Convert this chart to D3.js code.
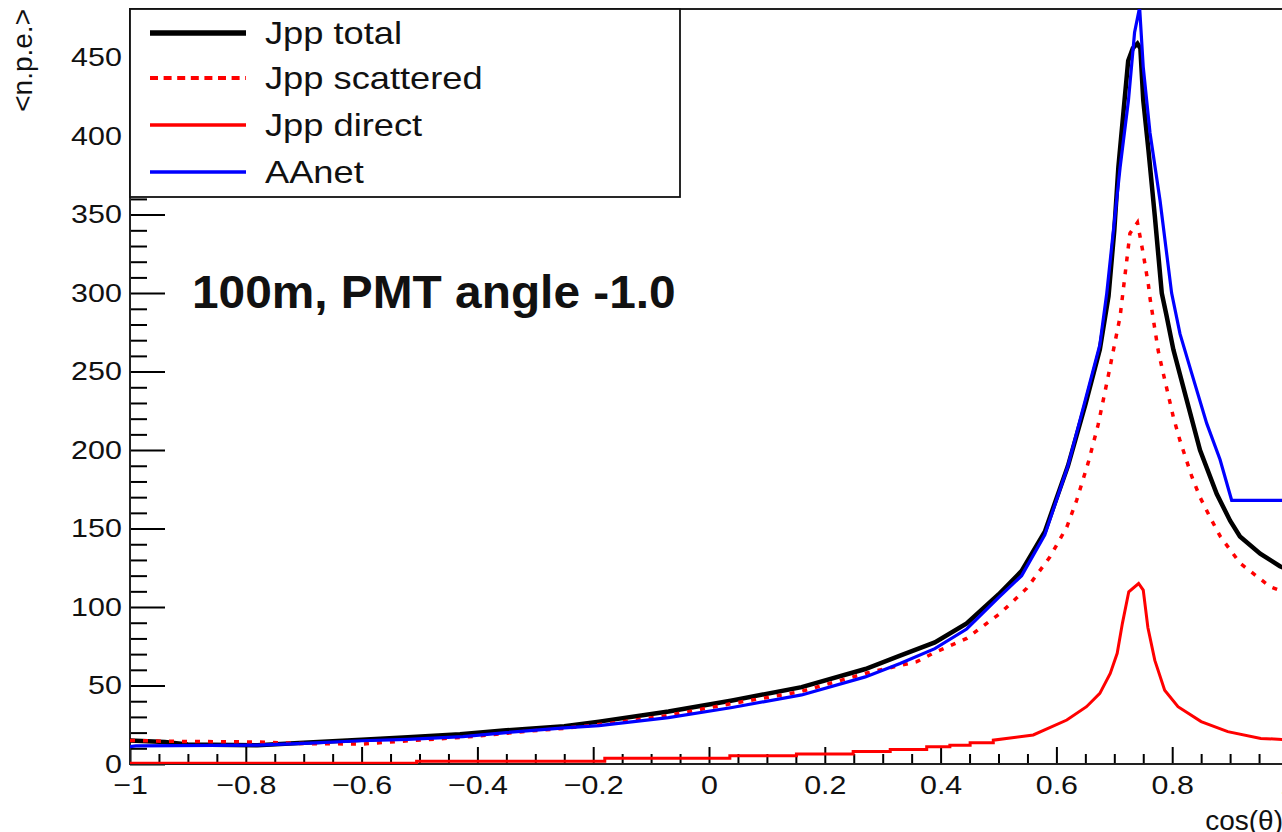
<!DOCTYPE html>
<html lang="en">
<head>
<meta charset="UTF-8" />
<script src="https://d3js.org/d3.v7.min.js"></script>
<title>n.p.e. vs cos(theta)</title>
<style>
  body { margin: 0; background: #fff; }
  text { font-family: "Liberation Sans", Arial, Helvetica, sans-serif; }
</style>
</head>
<body>
<script>
// ---- data ----
var totalX = [-1, -0.94, -0.9, -0.78, -0.7, -0.6, -0.52, -0.43, -0.35, -0.25, -0.19, -0.07, 0.04, 0.16, 0.27, 0.33, 0.39, 0.445, 0.5, 0.54, 0.58, 0.62, 0.65, 0.675, 0.69, 0.7, 0.707, 0.716, 0.724, 0.732, 0.74, 0.745, 0.75, 0.759, 0.77, 0.782, 0.79, 0.802, 0.825, 0.848, 0.877, 0.9, 0.917, 0.952, 0.986, 1.0];
var totalY = [15, 14, 12.5, 12, 13.5, 15.5, 17, 19, 21.5, 24, 27, 33.5, 40.5, 49, 60.5, 69, 77.5, 89.5, 108, 123, 148, 190, 229, 264, 298, 340, 380, 416, 448, 456, 459, 456, 423, 391, 349, 300, 286, 264, 232, 200, 172, 155, 145, 134, 126, 124];

var scatX = [-1, -0.94, -0.78, -0.7, -0.6, -0.52, -0.425, -0.31, -0.25, -0.17, -0.073, 0.041, 0.157, 0.273, 0.359, 0.387, 0.445, 0.503, 0.549, 0.589, 0.618, 0.635, 0.655, 0.672, 0.69, 0.71, 0.727, 0.74, 0.75, 0.759, 0.762, 0.776, 0.782, 0.802, 0.8135, 0.834, 0.848, 0.865, 0.883, 0.917, 0.969, 0.99, 1.0];
var scatY = [15, 14.5, 14, 13, 12.7, 14.8, 17, 21, 22.7, 25.9, 30.8, 38.6, 46, 58, 65.2, 70.5, 80, 96, 112, 132, 151, 168, 192, 216, 248, 285, 338, 345, 325, 305, 296, 263, 253, 221, 206, 183, 170, 157.5, 145, 128, 113, 110, 108];

var directX = [-1, -0.505, -0.505, -0.18, -0.18, 0.036, 0.036, 0.151, 0.151, 0.249, 0.249, 0.313, 0.313, 0.376, 0.376, 0.416, 0.416, 0.451, 0.451, 0.491, 0.491, 0.56, 0.618, 0.652, 0.675, 0.693, 0.705, 0.714, 0.725, 0.742, 0.75, 0.758, 0.77, 0.787, 0.81, 0.85, 0.896, 0.953, 1.0];
var directY = [0.5, 0.5, 1.7, 1.7, 3.6, 3.6, 5.3, 5.3, 6.4, 6.4, 7.9, 7.9, 9.3, 9.3, 11, 11, 12, 12, 13.6, 13.6, 15.2, 18.5, 28, 36.5, 45, 57.7, 70.5, 89.6, 109.7, 115, 110.8, 87, 66, 47, 36.5, 27, 20.6, 16.3, 15.5];

var aanetX = [-1, -0.99, -0.78, -0.7, -0.6, -0.52, -0.425, -0.35, -0.25, -0.19, -0.07, 0.04, 0.16, 0.27, 0.33, 0.39, 0.445, 0.5, 0.54, 0.58, 0.62, 0.65, 0.675, 0.687, 0.71, 0.7245, 0.735, 0.7437, 0.75, 0.7617, 0.779, 0.799, 0.8135, 0.8336, 0.8596, 0.8826, 0.9027, 1.0];
var aanetY = [11, 11.5, 12, 13.2, 14.8, 15.7, 17.5, 20, 23, 24.5, 29.5, 36, 44, 55.5, 64, 73.5, 86, 106, 120, 146, 190, 232, 267, 300, 380, 423, 466, 482, 444, 402, 359, 300, 274, 249, 217, 194, 168, 168];

var xTickValues = [-1, -0.8, -0.6, -0.4, -0.2, 0, 0.2, 0.4, 0.6, 0.8, 1];
var xTickLabels = ["\u22121", "\u22120.8", "\u22120.6", "\u22120.4", "\u22120.2", "0", "0.2", "0.4", "0.6", "0.8", "1"];
var yTickValues = [0, 50, 100, 150, 200, 250, 300, 350, 400, 450];

var legendNames = ["Jpp total", "Jpp scattered", "Jpp direct", "AAnet"];

// ---- layout ----
var w = 1282, h = 832;
var padL = 130, padR = 1288, padT = 9, padB = 764;

var svg = d3.select("body").append("svg")
  .attr("width", w)
  .attr("height", h)
  .style("display", "block");

svg.append("rect").attr("width", w).attr("height", h).attr("fill", "#fff");

var x = d3.scaleLinear().domain([-1, 1]).range([padL, padR]);
var y = d3.scaleLinear().domain([0, 481]).range([padB, padT]);

svg.append("defs").append("clipPath").attr("id", "plotclip")
  .append("rect")
  .attr("x", padL).attr("y", padT)
  .attr("width", padR - padL).attr("height", padB - padT);

// minor ticks
var xMinor = d3.range(-1, 1.0001, 0.05).filter(function (v) {
  return Math.abs(v * 5 - Math.round(v * 5)) > 1e-6;
});
var yMinor = d3.range(0, 481, 10).filter(function (v) { return v % 50 !== 0; });

svg.append("g")
  .attr("transform", "translate(0," + padB + ")")
  .call(d3.axisBottom(x).tickValues(xMinor).tickSize(-10).tickFormat(""))
  .call(function (g) { g.select(".domain").remove(); })
  .selectAll("line").attr("stroke", "#000").attr("stroke-width", 2);

svg.append("g")
  .attr("transform", "translate(" + padL + ",0)")
  .call(d3.axisLeft(y).tickValues(yMinor).tickSize(-17).tickFormat(""))
  .call(function (g) { g.select(".domain").remove(); })
  .selectAll("line").attr("stroke", "#000").attr("stroke-width", 2);

// major ticks + labels
var xAxis = svg.append("g")
  .attr("transform", "translate(0," + padB + ")")
  .call(d3.axisBottom(x).tickValues(xTickValues).tickSize(-17).tickPadding(12)
    .tickFormat(function (d, i) { return xTickLabels[i]; }));
xAxis.select(".domain").remove();
xAxis.selectAll("line").attr("stroke", "#000").attr("stroke-width", 2);
xAxis.selectAll("text")
  .attr("fill", "#111")
  .style("font-size", "26px")
  .attr("transform", "scale(1.17,1)");

var yAxis = svg.append("g")
  .attr("transform", "translate(" + padL + ",0)")
  .call(d3.axisLeft(y).tickValues(yTickValues).tickSize(-35).tickPadding(7));
yAxis.select(".domain").remove();
yAxis.selectAll("line").attr("stroke", "#000").attr("stroke-width", 2);
yAxis.selectAll("text")
  .attr("fill", "#111")
  .style("font-size", "26px")
  .attr("transform", "scale(1.17,1)");

// frame
svg.append("rect")
  .attr("x", padL).attr("y", padT)
  .attr("width", padR - padL).attr("height", padB - padT)
  .attr("fill", "none").attr("stroke", "#222").attr("stroke-width", 2);

// curves
function pts(xs, ys) { return xs.map(function (v, i) { return [v, ys[i]]; }); }
var line = d3.line().x(function (d) { return x(d[0]); }).y(function (d) { return y(d[1]); });

var curves = svg.append("g").attr("clip-path", "url(#plotclip)");

curves.append("path").datum(pts(totalX, totalY))
  .attr("d", line).attr("fill", "none")
  .attr("stroke", "#000").attr("stroke-width", 4.5);

curves.append("path").datum(pts(scatX, scatY))
  .attr("d", line).attr("fill", "none")
  .attr("stroke", "#ff0000").attr("stroke-width", 3.5)
  .attr("stroke-dasharray", "5,8");

curves.append("path").datum(pts(directX, directY))
  .attr("d", line).attr("fill", "none")
  .attr("stroke", "#ff0000").attr("stroke-width", 3);

curves.append("path").datum(pts(aanetX, aanetY))
  .attr("d", line).attr("fill", "none")
  .attr("stroke", "#0000ff").attr("stroke-width", 3.2);

// legend
var legend = svg.append("g");
legend.append("rect")
  .attr("x", padL).attr("y", padT)
  .attr("width", 550).attr("height", 188)
  .attr("fill", "#fff").attr("stroke", "#111").attr("stroke-width", 1.8);

var legendStyle = [
  { color: "#000", width: 5.5, dash: null },
  { color: "#ff0000", width: 4, dash: "8,5.6" },
  { color: "#ff0000", width: 3.5, dash: null },
  { color: "#0000ff", width: 3.5, dash: null }
];
var legendY = [33, 78, 125, 172];

legendNames.forEach(function (name, i) {
  var s = legendStyle[i];
  legend.append("line")
    .attr("x1", 150).attr("x2", 246)
    .attr("y1", legendY[i]).attr("y2", legendY[i])
    .attr("stroke", s.color).attr("stroke-width", s.width)
    .attr("stroke-dasharray", s.dash);
  legend.append("text")
    .attr("transform", "translate(265," + (legendY[i] + 11) + ") scale(1.17,1)")
    .attr("fill", "#111")
    .style("font-size", "31px")
    .text(name);
});

// annotation
svg.append("text")
  .attr("transform", "translate(192,308) scale(1.04,1)")
  .attr("fill", "#111")
  .style("font-size", "46px")
  .style("font-weight", "bold")
  .text("100m, PMT angle -1.0");

// axis titles
svg.append("text")
  .attr("transform", "translate(32,9) rotate(-90)")
  .attr("text-anchor", "end")
  .attr("fill", "#111")
  .style("font-size", "28px")
  .text("<n.p.e.>");

svg.append("text")
  .attr("x", 1283).attr("y", 830)
  .attr("text-anchor", "end")
  .attr("fill", "#111")
  .style("font-size", "28px")
  .text("cos(\u03b8)");
</script>
</body>
</html>
